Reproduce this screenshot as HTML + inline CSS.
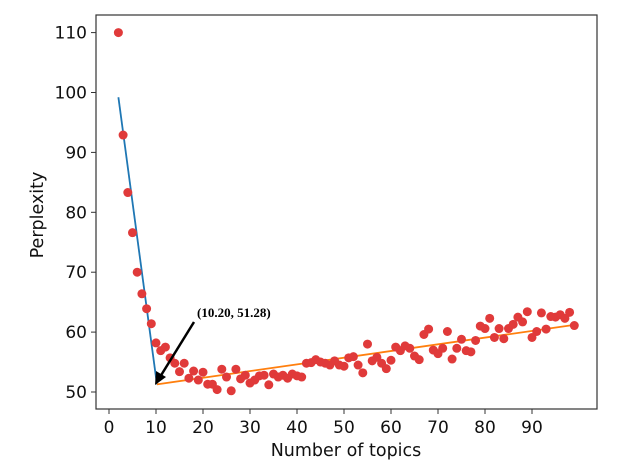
<!DOCTYPE html>
<html><head><meta charset="utf-8"><style>
body{margin:0;background:#fff;width:640px;height:468px;overflow:hidden}
svg text{font-family:"DejaVu Sans","Liberation Sans",sans-serif;fill:#111}
</style></head><body>
<svg id="chart" width="640" height="468" xmlns="http://www.w3.org/2000/svg">
<rect x="96" y="15" width="501" height="394" fill="none" stroke="#333" stroke-width="1.2"/>
<g id="xt"></g><g id="yt"></g><g id="lines"></g><g id="pts"></g>
<text x="346" y="456" font-size="17.5" text-anchor="middle">Number of topics</text>
<text transform="translate(43,215) rotate(-90)" font-size="17.5" text-anchor="middle">Perplexity</text>
<text x="197" y="317" font-size="13" font-weight="bold" style="font-family:'Liberation Serif',serif;fill:#000">(10.20, 51.28)</text>
<line x1="194" y1="322" x2="160" y2="377" stroke="#000" stroke-width="2.5"/>
<polygon points="155,385 156,371 166,377" fill="#000"/>
</svg>
<script>
const topics=[];for(let i=2;i<=99;i++)topics.push(i);
const perplexity=[110,92.9,83.3,76.6,70,66.4,63.9,61.4,58.2,56.9,57.5,55.7,54.8,53.4,
54.8,52.3,53.5,52,53.3,51.3,51.3,50.4,53.8,52.5,50.2,53.8,52.2,52.8,51.5,52,52.7,52.8,51.2,53,52.5,52.8,52.3,53,52.7,52.5,
54.8,54.9,55.4,55,54.8,54.5,55.2,54.5,54.3,55.7,55.9,54.5,53.2,58,55.2,55.8,54.8,53.9,55.3,57.5,56.9,57.7,57.3,56,55.4,
59.6,60.5,57,56.4,57.3,60.1,55.5,57.3,58.8,56.9,56.7,58.6,61,60.6,62.3,59.1,60.6,58.9,60.6,61.3,62.5,61.7,63.4,59.1,60.1,
63.2,60.5,62.6,62.5,62.9,62.3,63.3,61.1];
const fitLeftX=[2,10.2], fitLeftY=[99.2,51.28];
const fitRightX=[10.2,99], fitRightY=[51.28,61.2];
const xTicks=[0,10,20,30,40,50,60,70,80,90];
const yTicks=[50,60,70,80,90,100,110];
const sx=v=>109+v*4.7, sy=v=>392-(v-50)*5.99;
const NS='http://www.w3.org/2000/svg';
function mk(t,a,p){const e=document.createElementNS(NS,t);for(const k in a)e.setAttribute(k,a[k]);p.appendChild(e);return e;}
const xt=document.getElementById('xt'),yt=document.getElementById('yt');
xTicks.forEach(v=>{
 const l=mk('line',{x1:sx(v),x2:sx(v),y1:409,y2:414,stroke:'#333'},xt);
 
 
 const t=mk('text',{x:sx(v),y:433,'font-size':17,'text-anchor':'middle'},xt);t.textContent=v;
 
 
});
yTicks.forEach(v=>{
 const l=mk('line',{x1:91,x2:96,y1:sy(v),y2:sy(v),stroke:'#333'},yt);
 
 
 const t=mk('text',{x:87,y:sy(v)+6,'font-size':17,'text-anchor':'end'},yt);t.textContent=v;
 
 
});
const lg=document.getElementById('lines');
const b=mk('line',{x1:sx(fitLeftX[0]),y1:sy(fitLeftY[0]),x2:sx(fitLeftX[1]),y2:sy(fitLeftY[1]),stroke:'#1f77b4','stroke-width':1.8},lg);


const o=mk('line',{x1:sx(fitRightX[0]),y1:sy(fitRightY[0]),x2:sx(fitRightX[1]),y2:sy(fitRightY[1]),stroke:'#ff7f0e','stroke-width':1.8},lg);


const pg=document.getElementById('pts');
topics.forEach((x,i)=>{
 const c=mk('circle',{cx:sx(x),cy:sy(perplexity[i]),r:4.5,fill:'#e03a3a'},pg);
 
 
});
</script>
</body></html>
